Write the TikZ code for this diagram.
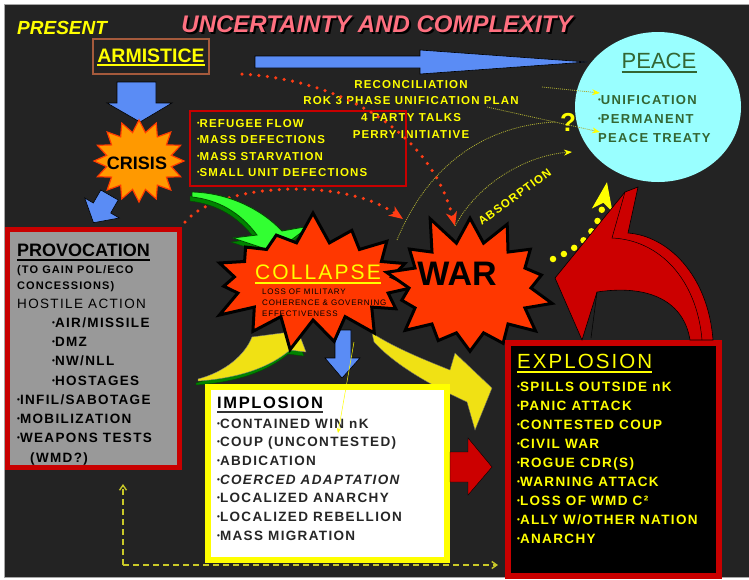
\documentclass[tikz,border=0pt]{standalone}
\usepackage{fontspec}
\usepackage{graphicx}
\setmainfont{Liberation Sans}
\newfontfamily\spacedfont{Liberation Sans}[LetterSpace=10]
\usetikzlibrary{shapes.symbols,shapes.geometric,arrows.meta}

\definecolor{bgdark}{RGB}{35,35,35}
\definecolor{titlePink}{RGB}{255,112,128}
\definecolor{yellowT}{RGB}{255,255,0}
\definecolor{armBrown}{RGB}{165,90,60}
\definecolor{blueArrow}{RGB}{90,140,245}
\definecolor{crisisOrange}{RGB}{255,153,0}
\definecolor{crisisRed}{RGB}{255,60,0}
\definecolor{boxRed}{RGB}{200,0,0}
\definecolor{starRed}{RGB}{255,55,0}
\definecolor{dotRed}{RGB}{255,60,20}
\definecolor{provGrey}{RGB}{153,153,153}
\definecolor{peaceCyan}{RGB}{153,255,255}
\definecolor{peaceGreen}{RGB}{51,102,51}
\definecolor{arrowGreen}{RGB}{50,255,50}
\definecolor{darkGreen}{RGB}{0,130,0}
\definecolor{arrowYellow}{RGB}{240,225,20}
\definecolor{lineOlive}{RGB}{170,170,50}
\definecolor{dashOlive}{RGB}{200,200,40}
\definecolor{arrowRed}{RGB}{204,0,0}

\newcommand{\fsz}[1]{\fontsize{#1}{#1}\selectfont}
\newcommand{\bulletmark}{\raisebox{.14em}{\scalebox{.6}{•}}}

\tikzset{
  txt/.style={inner sep=0pt, anchor=base west},
  ctxt/.style={inner sep=0pt, anchor=base},
  ul/.style={line width=2pt},
  reflist/.style={txt, text=yellowT, font=\spacedfont\fsz{11.5}\bfseries},
  biglist/.style={txt, font=\spacedfont\fsz{13.5}\bfseries},
  blockarrow/.style={fill=blueArrow, draw=black, line width=0.6pt},
  reddots/.style={dotRed, line width=3.5pt, line cap=round, dash pattern=on 0pt off 8.5pt,
    -{Stealth[length=14pt,width=11pt,inset=4pt]}},
  olivedots/.style={lineOlive, line width=0.8pt, dash pattern=on 1pt off 1pt,
    -{Stealth[length=8pt,width=6pt,color=yellowT]}},
  dashline/.style={dashOlive, line width=1.4pt, dash pattern=on 6pt off 4pt,
    -{Straight Barb[length=5pt,width=7pt]}},
  bigstar/.style={starburst, fill=starRed, draw=black, line width=3pt, inner sep=0pt}
}

\begin{document}
\begin{tikzpicture}[x=1pt, y=-1pt]
\useasboundingbox (0,0) rectangle (749,579);
\fill[white] (0,0) rectangle (749,579);
\draw[gray!70, fill=bgdark] (4,4) rectangle (749,577);

% title
\node[ctxt, text=black, font=\fsz{24}\bfseries\itshape] (titleShadow) at (379,34) {UNCERTAINTY AND COMPLEXITY};
\node[ctxt, text=titlePink, font=\fsz{24}\bfseries\itshape] (title) at (377,32) {UNCERTAINTY AND COMPLEXITY};
\node[txt, text=yellowT, font=\fsz{19}\bfseries\itshape] (present) at (17,34) {PRESENT};

% armistice
\node[draw=armBrown, line width=1.5pt, minimum width=116pt, minimum height=35pt, inner sep=0pt] (armBox) at (151,56.5) {};
\node[ctxt, text=yellowT, font=\fsz{19.5}\bfseries] (armTxt) at (151,62) {ARMISTICE};
\draw[ul, yellowT] ([yshift=-3pt]armTxt.base west) -- ([yshift=-3pt]armTxt.base east);

% blue arrows
\draw[blockarrow] (255,56) -- (420,56) -- (420,50) -- (587,62) -- (420,74) -- (420,68) -- (255,68) -- cycle;
\draw[blockarrow] (117,82) -- (156,82) -- (156,103) -- (172,103) -- (140,122) -- (107,103) -- (117,103) -- cycle;
\draw[blockarrow] (100.8,190) -- (118.2,200) -- (110.7,213) -- (119.3,218) -- (93.5,222.7) -- (84.7,198) -- (93.3,203) -- cycle;

% talks
\foreach \t [count=\i] in {RECONCILIATION, ROK 3 PHASE UNIFICATION PLAN, 4 PARTY TALKS, PERRY INITIATIVE}
  \node[reflist, anchor=base] (talk\i) at (411,{88+16.7*(\i-1)}) {\t};

% crisis
\node[starburst, starburst points=16, starburst point height=12pt, random starburst=0,
  minimum width=90pt, minimum height=82pt, fill=crisisOrange, draw=crisisRed, line width=1.2pt] (crisis) at (139,161) {};
\node[ctxt, font=\fsz{18}\bfseries] (crisisTxt) at (137,169) {CRISIS};

% refugee box
\node[draw=boxRed, line width=2.5pt, minimum width=216pt, minimum height=75pt, inner sep=0pt] (refBox) at (298,148.5) {};
\foreach \t [count=\i] in {REFUGEE FLOW, MASS DEFECTIONS, MASS STARVATION, SMALL UNIT DEFECTIONS}
  \node[reflist] (ref\i) at (197,{127+16.5*(\i-1)}) {\bulletmark\t};

% dotted connectors
\coordinate (armRight) at (242,74);
\coordinate (warTop) at (455,226);
\coordinate (provCorner) at (185,222);
\coordinate (warLeft) at (403,219);
\draw[reddots] (armRight) .. controls (340,80) and (430,130) .. (warTop);
\draw[reddots] (provCorner) .. controls (215,185) and (340,175) .. (warLeft);

\coordinate (oliveA) at (542,87);
\coordinate (oliveB) at (487,107);
\coordinate (collapseTop) at (397,240);
\coordinate (questionLeft) at (556,122);
\coordinate (absorbTip) at (572,152);
\node[ellipse, fill=peaceCyan, minimum width=166pt, minimum height=150pt, inner sep=0pt] (peace) at (658,107) {};
\draw[olivedots] (oliveA) -- (600,93);
\draw[olivedots] (oliveB) -- (600,132);
\draw[lineOlive, line width=0.8pt, dash pattern=on 1pt off 1pt] (collapseTop) .. controls (430,160) and (490,125) .. (questionLeft);
\draw[olivedots] (warTop) .. controls (480,180) and (530,155) .. (absorbTip);
\node[ctxt, text=yellowT, font=\spacedfont\fsz{11.5}\bfseries, rotate=36] (absorb) at (517,200) {ABSORPTION};
\node[ctxt, text=yellowT, font=\fsz{26}\bfseries] (question) at (568,131) {?};

% peace
\node[ctxt, text=peaceGreen, font=\fsz{22}] (peaceTxt) at (659,68) {PEACE};
\draw[ul, peaceGreen] ([yshift=-4pt]peaceTxt.base west) -- ([yshift=-4pt]peaceTxt.base east);
\node[biglist, text=peaceGreen, font=\spacedfont\fsz{13}\bfseries] (peace1) at (598,104) {\bulletmark UNIFICATION};
\node[biglist, text=peaceGreen, font=\spacedfont\fsz{13}\bfseries] (peace2) at (598,123) {\bulletmark PERMANENT};
\node[biglist, text=peaceGreen, font=\spacedfont\fsz{13}\bfseries] (peace3) at (598,142) {PEACE TREATY};

% provocation
\node[draw=boxRed, fill=provGrey, line width=5pt, minimum width=172pt, minimum height=238pt, inner sep=0pt] (provBox) at (93.5,348.5) {};
\node[txt, font=\fsz{18}\bfseries] (provTxt) at (17,256) {PROVOCATION};
\draw[ul, black] ([yshift=-3.5pt]provTxt.base west) -- ([yshift=-3.5pt]provTxt.base east);
\node[txt, font=\spacedfont\fsz{11}\bfseries] (prov1) at (17,273) {(TO GAIN POL/ECO};
\node[txt, font=\spacedfont\fsz{11}\bfseries] (prov2) at (17,289) {CONCESSIONS)};
\node[txt, font=\spacedfont\fsz{13.5}] (prov3) at (17,308) {HOSTILE ACTION};
\node[biglist] (prov4) at (52,327) {\bulletmark AIR/MISSILE};
\node[biglist] (prov5) at (52,346) {\bulletmark DMZ};
\node[biglist] (prov6) at (52,365) {\bulletmark NW/NLL};
\node[biglist] (prov7) at (52,385) {\bulletmark HOSTAGES};
\node[biglist] (prov8) at (17,404) {\bulletmark INFIL/SABOTAGE};
\node[biglist] (prov9) at (17,423) {\bulletmark MOBILIZATION};
\node[biglist] (prov10) at (17,442) {\bulletmark WEAPONS TESTS};
\node[biglist] (prov11) at (30,462) {(WMD?)};

% arrows behind the stars
\begin{scope}[shift={(-2,4)}]
\draw[fill=darkGreen, draw=black!70!green] (192,192) .. controls (230,193) and (262,210) .. (282,231) -- (310,226) -- (275,252) -- (233,238) -- (257,235) .. controls (240,212) and (218,200) .. (192,197) -- cycle;
\draw[fill=darkGreen, draw=black!70!green] (198,379) .. controls (225,372) and (245,355) .. (252,337) -- (298,331) -- (306,352) -- (290,350) .. controls (270,367) and (240,378) .. (198,381) -- cycle;
\end{scope}
\draw[fill=arrowGreen, draw=black!70!green, line width=0.8pt] (192,192) .. controls (230,193) and (262,210) .. (282,231) -- (310,226) -- (275,252) -- (233,238) -- (257,235) .. controls (240,212) and (218,200) .. (192,197) -- cycle;
\draw[fill=arrowYellow, draw=black!50] (198,379) .. controls (225,372) and (245,355) .. (252,337) -- (298,331) -- (306,352) -- (290,350) .. controls (270,367) and (240,378) .. (198,381) -- cycle;
\draw[fill=arrowYellow, draw=black!60] (372,333) .. controls (395,348) and (425,360) .. (450,370) -- (455,353) -- (492,388) -- (475,430) -- (467,402) .. controls (430,385) and (395,365) .. (374,342) -- cycle;
\draw[blockarrow] (335,330) -- (351,330) -- (351,358) -- (360,358) -- (342,378) -- (325,358) -- (335,358) -- cycle;

% collapse and war
\node[bigstar, starburst points=15, starburst point height=32pt, random starburst=7,
  minimum width=222pt, minimum height=142pt] (collapse) at (313,281) {};
\node[bigstar, starburst points=14, starburst point height=32pt, random starburst=11,
  minimum width=186pt, minimum height=156pt] (war) at (470,288) {};
\node[txt, text=yellowT, font=\spacedfont\fsz{21}] (collapseTxt) at (255,279) {COLLAPSE};
\draw[ul, yellowT] ([yshift=-4pt]collapseTxt.base west) -- ([yshift=-4pt]collapseTxt.base east);
\node[txt, font=\spacedfont\fsz{8}] (collapse1) at (262,294) {LOSS OF MILITARY};
\node[txt, font=\spacedfont\fsz{8}] (collapse2) at (262,305) {COHERENCE \& GOVERNING};
\node[txt, font=\spacedfont\fsz{8}] (collapse3) at (262,316) {EFFECTIVENESS};
\node[ctxt, font=\fsz{34}\bfseries] (warTxt) at (457,285) {WAR};

% implosion
\coordinate (collapseFoot) at (354,342);
\node[draw=yellowT, fill=white, line width=6pt, minimum width=239pt, minimum height=173pt, inner sep=0pt] (implBox) at (327.5,473.5) {};
\node[txt, font=\spacedfont\fsz{16.5}\bfseries] (implTxt) at (217,408) {IMPLOSION};
\draw[ul, black!80] ([yshift=-4pt]implTxt.base west) -- ([yshift=-4pt]implTxt.base east);
\foreach \t [count=\i] in {CONTAINED WIN nK, COUP (UNCONTESTED), ABDICATION, \textit{COERCED ADAPTATION}, LOCALIZED ANARCHY, LOCALIZED REBELLION, MASS MIGRATION}
  \node[biglist, text=black!85] (impl\i) at (217,{428+18.7*(\i-1)}) {\bulletmark\t};
\coordinate (implTip) at (338,433);
\draw[yellowT, line width=0.5pt, -{Stealth[length=5pt,width=4pt]}] (collapseFoot) -- (implTip);

% explosion
\draw[fill=arrowRed] (450,452) -- (468,452) -- (468,438) -- (492,467) -- (468,495) -- (468,482) -- (450,482) -- cycle;
\node[draw=boxRed, fill=black, line width=6pt, minimum width=211pt, minimum height=233pt, inner sep=0pt] (explBox) at (613.5,459.5) {};
\node[txt, text=yellowT, font=\spacedfont\fsz{20.5}] (explTxt) at (517,368) {EXPLOSION};
\draw[ul, yellowT] ([yshift=-4pt]explTxt.base west) -- ([yshift=-4pt]explTxt.base east);
\foreach \t [count=\i] in {SPILLS OUTSIDE nK, PANIC ATTACK, CONTESTED COUP, CIVIL WAR, ROGUE CDR(S), WARNING ATTACK, LOSS OF WMD C², ALLY W/OTHER NATION, ANARCHY}
  \node[biglist, text=yellowT] (expl\i) at (517,{391+19.05*(\i-1)}) {\bulletmark\t};

% red curved arrow and yellow dots
\coordinate (dotStart) at (553,259);
\coordinate (dotTip) at (607,182);
\draw[yellowT, line width=6.5pt, line cap=round, dash pattern=on 0pt off 12pt,
  -{Stealth[length=28pt,width=20pt,inset=7pt]}] (dotStart) .. controls (575,250) and (598,235) .. (dotTip);
\draw[black, line width=0.6pt, fill=arrowRed] (555,278) -- (625,192) -- (638,187) -- (628,233) .. controls (668,236) and (708,275) .. (713,340) -- (690,340) .. controls (684,302) and (650,284) .. (597,292) -- (582,340) -- cycle;
\draw[black, line width=0.5pt] (625,192) -- (612,238) .. controls (660,240) and (697,280) .. (702,340);
\draw[black, line width=0.5pt] (597,292) -- (591,338);

% dashed return line
\coordinate (dashCorner) at (123,565);
\coordinate (provTip) at (123,484);
\coordinate (explTip) at (498,565);
\draw[dashline] (dashCorner) -- (provTip);
\draw[dashline] (dashCorner) -- (explTip);
\end{tikzpicture}
\end{document}
